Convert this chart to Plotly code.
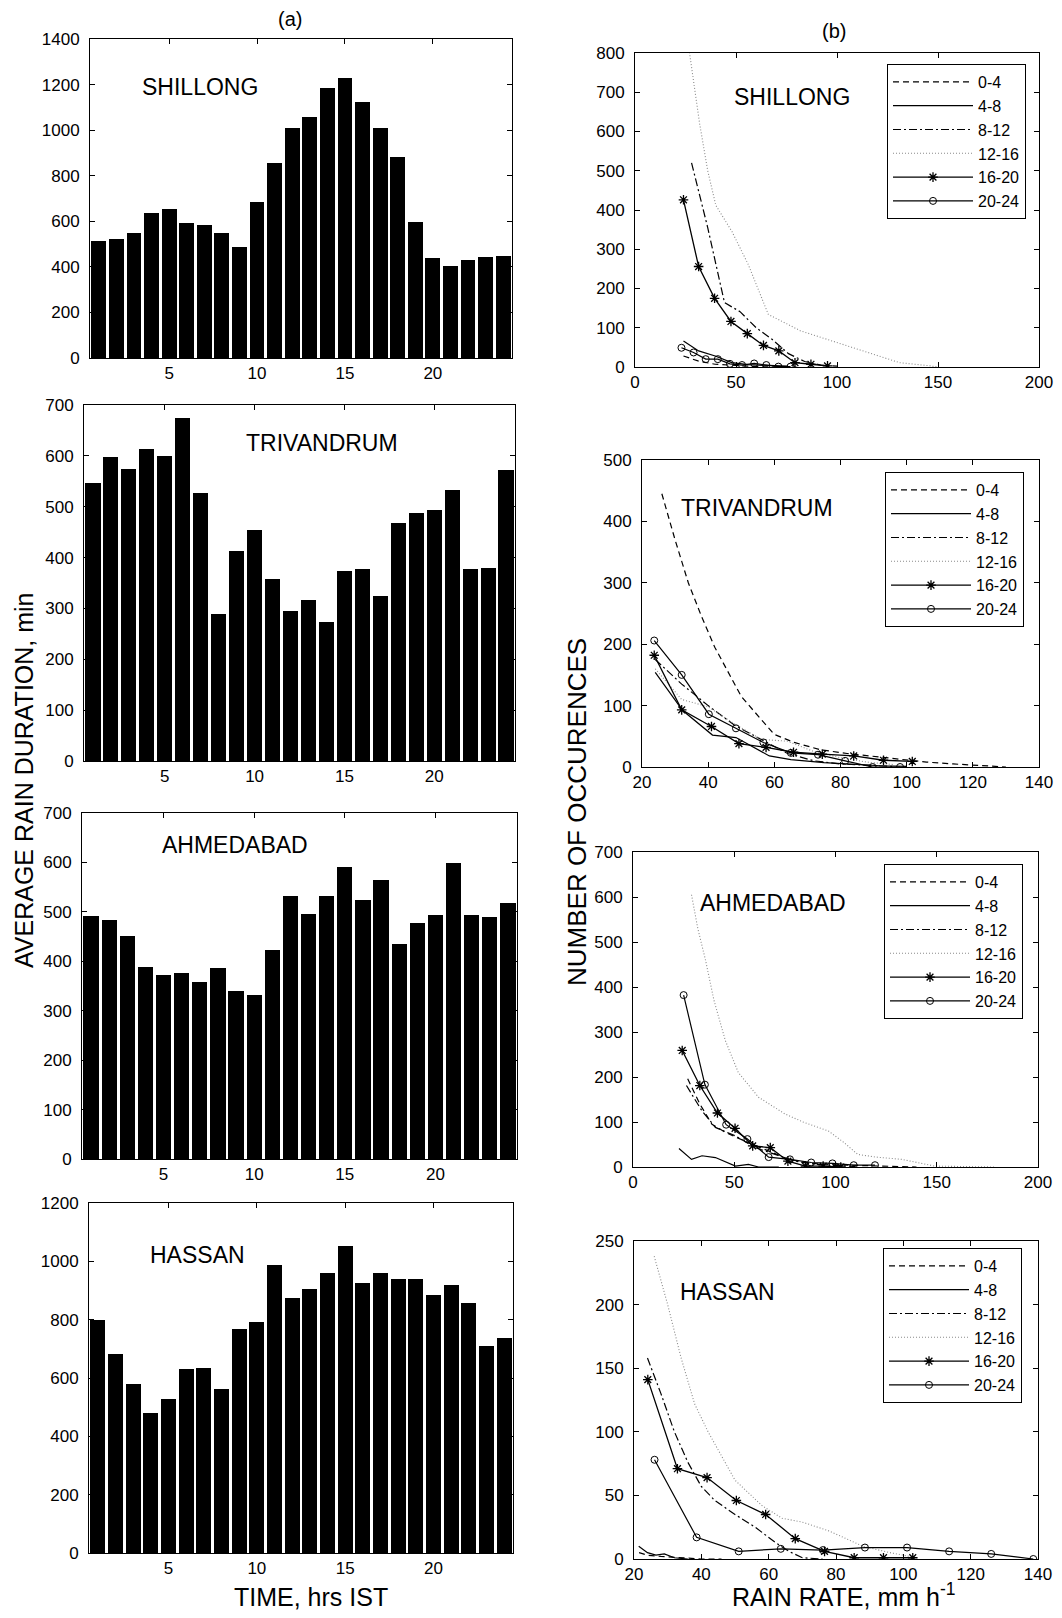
import plotly.graph_objects as go
from plotly.subplots import make_subplots

# ---------------- data: (a) average rain duration per hour ----------------
HOURS = list(range(1, 25))
SHILLONG_DUR = [515, 522, 550, 635, 655, 592, 585, 550, 485, 685, 858, 1010,
                1058, 1183, 1230, 1125, 1008, 880, 595, 440, 405, 430, 442, 446]
TRIVANDRUM_DUR = [546, 597, 574, 613, 599, 674, 526, 289, 412, 455, 358, 295,
                  316, 273, 373, 378, 325, 468, 487, 493, 532, 378, 380, 572]
AHMEDABAD_DUR = [492, 483, 452, 389, 373, 377, 358, 386, 339, 331, 422, 533,
                 496, 533, 591, 525, 564, 435, 478, 494, 599, 494, 490, 518]
HASSAN_DUR = [799, 683, 579, 480, 528, 631, 633, 561, 769, 791, 986, 873,
              904, 961, 1052, 925, 959, 940, 940, 885, 920, 858, 710, 736]

GROUPS = ["0-4", "4-8", "8-12", "12-16", "16-20", "20-24"]

# ---------------- data: (b) number of occurrences vs rain rate ----------------
# Shillong
SHL_X_0_4 = [24, 31.5, 39.7, 51, 60, 70, 80]
SHL_Y_0_4 = [28, 15, 7, 3, 1, 0, 0]
SHL_X_4_8 = [24, 31.5, 39.7, 47.9, 56, 64, 75.6]
SHL_Y_4_8 = [66, 41, 28, 11, 6, 4, 2]
SHL_X_8_12 = [28, 36, 44.3, 52, 60, 68, 76, 84, 92, 100]
SHL_Y_8_12 = [520, 355, 164, 141, 100, 70, 34, 14, 5, 2]
SHL_X_12_16 = [24, 27, 32, 36, 40, 48, 56, 64, 66, 82, 100, 120, 131, 146, 150]
SHL_Y_12_16 = [900, 800, 620, 500, 412, 345, 262, 160, 134, 92, 62, 28, 11, 3, 0]
SHL_X_16_20 = [24, 31.5, 39.4, 47.5, 55.6, 63.6, 71.2, 79.2, 87.1, 95.3]
SHL_Y_16_20 = [426, 256, 175, 116, 85, 55, 41, 11, 7, 3]
SHL_X_20_24 = [23, 29, 35, 41, 47, 53, 59, 65, 71, 77]
SHL_Y_20_24 = [49, 37, 20, 20, 8, 5, 9, 5, 1, 1]

# Trivandrum
TRV_X_0_4 = [26, 30, 34, 38, 42, 46, 50, 54, 60, 66, 74, 82, 90, 98, 106, 114, 122, 130]
TRV_Y_0_4 = [445, 370, 300, 245, 195, 155, 115, 90, 53, 40, 28, 22, 17, 12, 8, 5, 3, 0]
TRV_X_4_8 = [24, 32.3, 41.3, 48.4, 58.5, 65, 75, 84, 92, 100]
TRV_Y_4_8 = [154, 92, 52, 48, 18, 12, 7, 4, 2, 1]
TRV_X_8_12 = [24, 32, 40, 48, 56, 64, 72, 80, 88, 96]
TRV_Y_8_12 = [175, 135, 100, 68, 45, 22, 10, 5, 3, 1]
TRV_X_12_16 = [24, 32, 40, 48, 56, 64, 72, 80, 88, 96]
TRV_Y_12_16 = [160, 110, 98, 70, 45, 42, 25, 15, 8, 4]
TRV_X_16_20 = [23.7, 32, 41, 49.3, 57.5, 65.8, 74.5, 84, 93, 101.7]
TRV_Y_16_20 = [182, 93, 66, 38, 32, 24, 21, 18, 11, 9]
TRV_X_20_24 = [23.7, 32, 40.2, 48.4, 56.7, 65, 73.2, 81.4, 89.7, 98]
TRV_Y_20_24 = [206, 150, 86, 63, 40, 23, 20, 10, 0, 0]

# Ahmedabad
AHM_X_0_4 = [27, 33, 39, 45.6, 57, 67, 77, 88, 100, 115, 130, 140]
AHM_Y_0_4 = [196, 140, 95, 77, 54, 36, 17, 8, 5, 3, 1, 0]
AHM_X_4_8 = [22.7, 28.9, 34.1, 40.7, 50.6, 57, 62, 72]
AHM_Y_4_8 = [41, 17, 25, 21, 2, 6, 0, 0]
AHM_X_8_12 = [26.4, 34, 40.7, 50.6, 60.4, 70, 80, 90, 100, 110]
AHM_Y_8_12 = [181, 125, 88, 69, 43, 28, 13, 6, 3, 1]
AHM_X_12_16 = [28.9, 32, 35.8, 40, 45.6, 52, 62, 75, 84, 96.5, 104, 111, 120, 132.7, 149, 178.6]
AHM_Y_12_16 = [605, 530, 460, 370, 281, 210, 155, 118, 100, 80, 55, 28, 22, 17, 2, 0]
AHM_X_16_20 = [24.3, 33, 41.7, 50.4, 59.1, 67.8, 76.5, 85.2, 93.9, 102.6]
AHM_Y_16_20 = [259, 181, 120, 86, 47, 43, 13, 2, 2, 0]
AHM_X_20_24 = [25, 35.5, 46, 56.5, 67, 77.5, 88, 98.5, 109, 119.5]
AHM_Y_20_24 = [382, 183, 94, 62, 22, 17, 10, 8, 4, 4]

# Hassan
HAS_X_0_4 = [21.5, 24, 28, 34, 40, 46]
HAS_Y_0_4 = [5, 3, 2, 1, 0, 0]
HAS_X_4_8 = [21.4, 24, 26.5, 29, 32, 36]
HAS_Y_4_8 = [10, 5, 3, 4, 1, 0]
HAS_X_8_12 = [24, 28, 32, 36, 40, 44, 50, 56, 62, 66, 70, 76]
HAS_Y_8_12 = [158, 130, 100, 76, 57, 46, 35, 25, 13, 6, 1, 0]
HAS_X_12_16 = [26, 30, 34, 38, 42, 50, 58, 64, 70, 78, 88, 96, 104]
HAS_Y_12_16 = [238, 200, 158, 122, 100, 62, 42, 32, 29, 22, 10, 5, 1]
HAS_X_16_20 = [24.1, 32.9, 41.7, 50.4, 59.1, 67.9, 76.6, 85.4, 94.1, 102.8]
HAS_Y_16_20 = [141, 71, 64, 46, 35, 16, 6, 1, 1, 1]
HAS_X_20_24 = [26.1, 38.6, 51.1, 63.6, 76.1, 88.6, 101.1, 113.6, 126.1, 138.6]
HAS_Y_20_24 = [78, 17, 6, 8, 7, 9, 9, 6, 4, 0]

STATIONS = ["SHILLONG", "TRIVANDRUM", "AHMEDABAD", "HASSAN"]
DURATIONS = [SHILLONG_DUR, TRIVANDRUM_DUR, AHMEDABAD_DUR, HASSAN_DUR]
RATE_DATA = [
    [(SHL_X_0_4, SHL_Y_0_4), (SHL_X_4_8, SHL_Y_4_8), (SHL_X_8_12, SHL_Y_8_12),
     (SHL_X_12_16, SHL_Y_12_16), (SHL_X_16_20, SHL_Y_16_20), (SHL_X_20_24, SHL_Y_20_24)],
    [(TRV_X_0_4, TRV_Y_0_4), (TRV_X_4_8, TRV_Y_4_8), (TRV_X_8_12, TRV_Y_8_12),
     (TRV_X_12_16, TRV_Y_12_16), (TRV_X_16_20, TRV_Y_16_20), (TRV_X_20_24, TRV_Y_20_24)],
    [(AHM_X_0_4, AHM_Y_0_4), (AHM_X_4_8, AHM_Y_4_8), (AHM_X_8_12, AHM_Y_8_12),
     (AHM_X_12_16, AHM_Y_12_16), (AHM_X_16_20, AHM_Y_16_20), (AHM_X_20_24, AHM_Y_20_24)],
    [(HAS_X_0_4, HAS_Y_0_4), (HAS_X_4_8, HAS_Y_4_8), (HAS_X_8_12, HAS_Y_8_12),
     (HAS_X_12_16, HAS_Y_12_16), (HAS_X_16_20, HAS_Y_16_20), (HAS_X_20_24, HAS_Y_20_24)],
]

# axis settings
LEFT_YMAX = [1400, 700, 700, 1200]
LEFT_YDTICK = [200, 100, 100, 200]
RIGHT_XRANGE = [(0, 200), (20, 140), (0, 200), (20, 140)]
RIGHT_XDTICK = [50, 20, 50, 20]
RIGHT_YMAX = [800, 500, 700, 250]
RIGHT_YDTICK = [100, 100, 100, 50]

# ---------------- layout (pixels, in page coordinates) ----------------
PAGE_W, PAGE_H = 1062, 1618
OFFSET = 8                       # the page's default body margin
W, H = PAGE_W - 2 * OFFSET, PAGE_H - 2 * OFFSET
FONT = "Arial, Liberation Sans, Helvetica, sans-serif"
LEFT_BOX = [(90, 512, 39, 358), (84, 515, 405, 761), (82, 517, 813, 1159), (89, 513, 1203, 1553)]
RIGHT_BOX = [(635, 1039, 53, 367), (642, 1039, 460, 767), (633, 1038, 852, 1167), (634, 1038, 1241, 1559)]
LEFT_LABEL_POS = [(200, 87), (322, 443), (235, 845), (197, 1255)]
RIGHT_LABEL_POS = [(792, 97), (757, 508), (773, 903), (727, 1292)]
LEGEND_POS = [(887, 64), (885, 472), (884, 864), (883, 1248)]

STYLES = {
    "0-4": dict(line=dict(color="black", width=1.2, dash="6px,4px"), mode="lines"),
    "4-8": dict(line=dict(color="black", width=1.2), mode="lines"),
    "8-12": dict(line=dict(color="black", width=1.2, dash="8px,3px,2px,3px"), mode="lines"),
    "12-16": dict(line=dict(color="#8a8a8a", width=1.1, dash="1px,2px"), mode="lines"),
    "16-20": dict(line=dict(color="black", width=1.3), mode="lines+markers",
                  marker=dict(symbol="asterisk-open", size=8, color="black",
                              line=dict(color="black", width=1.3))),
    "20-24": dict(line=dict(color="black", width=1.2), mode="lines+markers",
                  marker=dict(symbol="circle-open", size=7, color="black",
                              line=dict(color="black", width=1))),
}


def px_x(p):
    return (p - OFFSET) / W


def px_y(p):
    return 1 - (p - OFFSET) / H


fig = make_subplots(rows=4, cols=2)

for r in range(4):
    # left bar chart
    fig.add_trace(go.Bar(x=HOURS, y=DURATIONS[r], marker=dict(color="black", line=dict(width=0)),
                         width=0.84, showlegend=False), row=r + 1, col=1)
    # right line chart
    leg = "legend" if r == 0 else f"legend{r + 1}"
    for g, (xs, ys) in zip(GROUPS, RATE_DATA[r]):
        st = STYLES[g]
        fig.add_trace(go.Scatter(x=xs, y=ys, name=g, legend=leg, **st), row=r + 1, col=2)

axis_common = dict(showgrid=False, zeroline=False, showline=True, linecolor="black", linewidth=1,
                   mirror="ticks", ticks="inside", ticklen=5, tickwidth=1, tickcolor="black",
                   automargin=False,
                   tickfont=dict(family=FONT, size=17, color="black"))

for r in range(4):
    li = 2 * r + 1
    ri = 2 * r + 2
    lx0, lx1, ly0, ly1 = LEFT_BOX[r]
    rx0, rx1, ry0, ry1 = RIGHT_BOX[r]
    fig.layout[f"xaxis{li}"].update(domain=[px_x(lx0), px_x(lx1)], range=[0.5, 24.5],
                                    tickvals=[5, 10, 15, 20], **axis_common)
    fig.layout[f"yaxis{li}"].update(domain=[px_y(ly1), px_y(ly0)], range=[0, LEFT_YMAX[r]],
                                    dtick=LEFT_YDTICK[r], tick0=0, ticklabelstandoff=6, **axis_common)
    fig.layout[f"xaxis{ri}"].update(domain=[px_x(rx0), px_x(rx1)], range=list(RIGHT_XRANGE[r]),
                                    dtick=RIGHT_XDTICK[r], tick0=0, **axis_common)
    fig.layout[f"yaxis{ri}"].update(domain=[px_y(ry1), px_y(ry0)], range=[0, RIGHT_YMAX[r]],
                                    dtick=RIGHT_YDTICK[r], tick0=0, ticklabelstandoff=6, **axis_common)


def text_ann(text, x, y, size, angle=0):
    return dict(text=text, x=px_x(x), y=px_y(y), xref="paper", yref="paper",
                showarrow=False, xanchor="center", yanchor="middle", textangle=angle,
                font=dict(family=FONT, size=size, color="black"))


annotations = []
for r in range(4):
    for (x, y) in (LEFT_LABEL_POS[r], RIGHT_LABEL_POS[r]):
        annotations.append(text_ann(STATIONS[r], x, y, 23))

annotations += [
    text_ann("(a)", 290, 19, 20),
    text_ann("(b)", 834, 31, 20),
    text_ann("TIME, hrs IST", 311, 1597, 25),
    text_ann("RAIN RATE, mm h<sup>-1</sup>", 843, 1595, 25),
    text_ann("AVERAGE RAIN DURATION, min", 24, 780, 25, -90),
    text_ann("NUMBER OF OCCURENCES", 577, 812, 26, -90),
]

legends = {}
for r in range(4):
    key = "legend" if r == 0 else f"legend{r + 1}"
    lx, ly = LEGEND_POS[r]
    legends[key] = dict(x=px_x(lx), y=px_y(ly), xanchor="left", yanchor="top",
                        bgcolor="white", bordercolor="black", borderwidth=1,
                        font=dict(family=FONT, size=16, color="black"),
                        itemwidth=80, tracegroupgap=0, itemclick=False)

fig.update_layout(width=W, height=H,
                  margin=dict(l=0, r=0, t=0, b=0, pad=0, autoexpand=False),
                  paper_bgcolor="white", plot_bgcolor="white", bargap=0,
                  font=dict(family=FONT, color="black"), showlegend=True,
                  annotations=annotations, **legends)

fig.write_html("out.html")
